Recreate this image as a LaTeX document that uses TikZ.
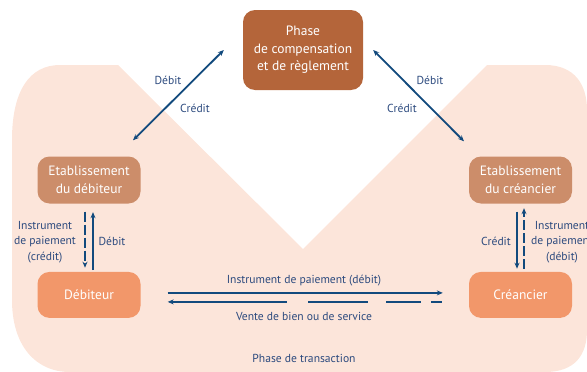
\documentclass[tikz,border=0pt]{standalone}
\usepackage{fontspec}
\setmainfont{PT Sans}
\usepackage{tikz}
\usetikzlibrary{positioning}
\usetikzlibrary{arrows.meta}
\usepackage{xcolor}

\definecolor{fondpeche}{HTML}{FCE5DA}
\definecolor{brunphase}{HTML}{B4653A}
\definecolor{brunetab}{HTML}{CC8D6A}
\definecolor{orangeagent}{HTML}{F2976A}
\definecolor{bleufleche}{HTML}{124A7D}
\definecolor{bleutexte}{HTML}{2C4A7E}

\begin{document}
\begin{tikzpicture}[x=1pt, y=-1pt,
    phasebox/.style={rounded corners=12pt, fill=brunphase, text=white, align=center, inner sep=0pt,
        minimum width=120pt, minimum height=80pt, font=\fontsize{13.5}{17.5}\selectfont},
    etabbox/.style={phasebox, fill=brunetab, minimum width=103pt, minimum height=47pt},
    agentbox/.style={phasebox, fill=orangeagent, minimum width=103pt, minimum height=46pt},
    lbl/.style={text=bleutexte, align=center, inner sep=0pt, font=\fontsize{11.6}{15.5}\selectfont},
    flux/.style={bleufleche, line width=1.8pt},
    fluxpointille/.style={bleufleche, line width=2.8pt, dash pattern=on 10pt off 3pt},
    pointe/.style={-{Stealth[length=6pt,width=5pt]}},
    doublepointe/.style={{Stealth[length=6pt,width=5pt]}-{Stealth[length=6pt,width=5pt]}}]


\useasboundingbox (0,0) rectangle (587,372);

% phase de transaction (fond)
\fill[fondpeche] (12,140) .. controls (12,90) and (30,65) .. (60,65) -- (118,65) -- (303,249)
    -- (487,65) -- (545,65) .. controls (575,65) and (587,85) .. (587,110) -- (587,330)
    .. controls (587,355) and (575,372) .. (545,372) -- (70,372)
    .. controls (35,372) and (12,345) .. (12,300) -- cycle;


{
\node[phasebox] (phase) at (303,50) {Phase\\de compensation\\et de règlement};

\node[etabbox] (etabdeb) at (89,180) {Etablissement\\du débiteur};
\node[etabbox] (etabcre) at (520.5,180) {Etablissement\\du créancier};

\node[agentbox, below=68pt of etabdeb] (debiteur) {Débiteur};
\node[agentbox, below=68pt of etabcre] (creancier) {Créancier};
}


{
\draw[flux, doublepointe] ([xshift=-19pt]phase.west) -- ([xshift=44pt,yshift=16pt]etabdeb.north);
\draw[flux, doublepointe] ([xshift=10pt]phase.east) -- ([xshift=-56.5pt,yshift=15pt]etabcre.north);

\draw[fluxpointille, pointe, shorten <=8pt, shorten >=4pt] ([xshift=-4pt]etabdeb.south) -- ([xshift=-4pt]debiteur.north);
\draw[flux, pointe, shorten <=1.5pt, shorten >=8.5pt] ([xshift=4pt]debiteur.north) -- ([xshift=4pt]etabdeb.south);

\draw[flux, line width=2.4pt, pointe, shorten <=8pt, shorten >=3pt] ([xshift=-3.5pt]etabcre.south) -- ([xshift=-3.5pt]creancier.north);
\draw[fluxpointille, pointe, shorten <=3pt, shorten >=4.5pt] ([xshift=3.5pt]creancier.north) -- ([xshift=3.5pt]etabcre.south);

\draw[flux, pointe, shorten <=27pt, shorten >=26pt] ([yshift=2pt]debiteur.east) -- ([yshift=2pt]creancier.west);
\draw[bleufleche, line width=2.6pt, pointe, dash pattern=on 11pt off 10pt on 35pt off 18pt on 60pt off 21pt on 200pt off 0pt,
    shorten <=27pt, shorten >=27pt] ([yshift=-7pt]creancier.west) -- ([yshift=-7pt]debiteur.east);
}


{
\node[lbl] (debitg) at (168,80) {Débit};
\node[lbl] (creditg) at (195,108) {Crédit};
\node[lbl] (debitd) at (430,80) {Débit};
\node[lbl] (creditd) at (402,108) {Crédit};

\node[lbl] (instrg) at (45,242) {Instrument\\de paiement\\(crédit)};
\node[lbl] (debitv) at (112,241) {Débit};
\node[lbl] (creditv) at (496,241) {Crédit};
\node[lbl] (instrd) at (562,242) {Instrument\\de paiement\\(débit)};

\node[lbl] (instrh) at (304,281) {Instrument de paiement (débit)};
\node[lbl] (vente) at (304,316) {Vente de bien ou de service};
\node[lbl] (transaction) at (304,358) {Phase de transaction};
}

\end{tikzpicture}
\end{document}
